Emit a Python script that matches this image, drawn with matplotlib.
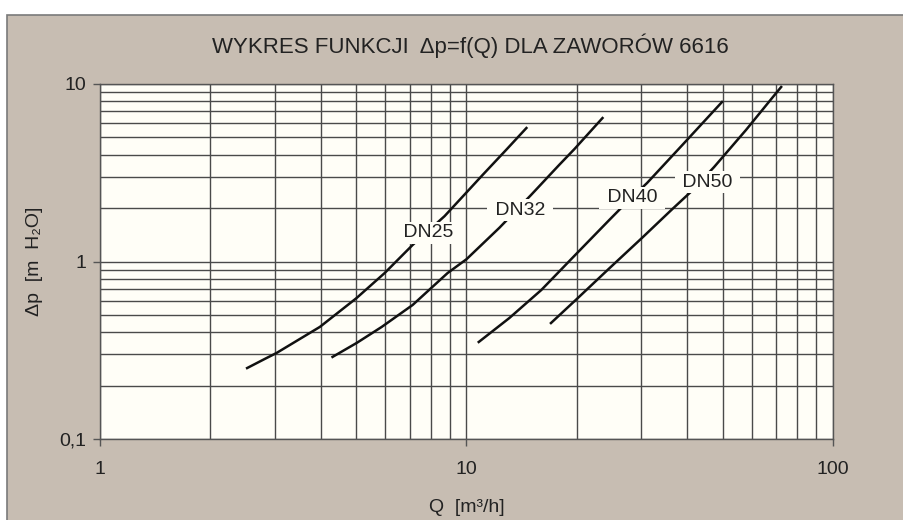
import matplotlib
matplotlib.use("Agg")
import matplotlib.pyplot as plt
from matplotlib.patches import Rectangle
from matplotlib.ticker import FixedLocator, FixedFormatter, NullFormatter

# dane
q_dn25 = [2.52, 2.82, 3.03, 3.98, 5.01, 5.98, 7.13, 8.71, 10.0, 11.06, 12.85, 14.57]
dp_dn25 = [0.251, 0.283, 0.305, 0.428, 0.622, 0.861, 1.24, 1.80, 2.45, 3.07, 4.27, 5.65]

q_dn32 = [4.31, 5.02, 5.87, 7.13, 8.88, 10.0, 12.3, 15.0, 17.9, 19.7, 23.5]
dp_dn32 = [0.290, 0.348, 0.428, 0.569, 0.861, 1.03, 1.55, 2.37, 3.50, 4.30, 6.43]

q_dn40 = [10.8, 13.1, 16.0, 19.9, 24.5, 26.9, 31.1, 38.8, 49.8]
dp_dn40 = [0.352, 0.481, 0.691, 1.10, 1.71, 2.08, 2.77, 4.53, 7.92]

q_dn50 = [17.0, 20.3, 24.5, 30.2, 36.4, 41.3, 47.4, 57.9, 68.2, 72.2]
dp_dn50 = [0.450, 0.633, 0.913, 1.365, 1.97, 2.51, 3.41, 5.51, 8.34, 9.62]

serie = ["DN25", "DN32", "DN40", "DN50"]
etykiety_q = [7.88, 14.0, 28.3, 45.4]
etykiety_dp = [1.45, 1.95, 2.28, 2.80]

x_ticks = [1, 10, 100]
x_tick_labels = ["1", "10", "100"]
y_ticks = [0.1, 1, 10]
y_tick_labels = ["0,1", "1", "10"]

# ustawienia
plt.rcParams["font.family"] = ["Liberation Sans", "DejaVu Sans"]
tlo = "#c7bdb2"
pole = "#fffef7"
siatka = "#4a4a4a"

fig = plt.figure(figsize=(9.04, 5.2), dpi=100)
fig.patch.set_facecolor("white")
fig.patches.append(Rectangle((7 / 904, -0.05), 1.0, 0.05 + (520 - 15) / 520,
                             transform=fig.transFigure, facecolor=tlo,
                             edgecolor="#7a7a7a", linewidth=1.2, zorder=-5))

ax = fig.add_axes([100 / 904, (520 - 439) / 520, 733 / 904, 355 / 520])
ax.set_zorder(2)
ax.set_facecolor(pole)
ax.set_xscale("log")
ax.set_yscale("log")
ax.set_xlim(1, 100)
ax.set_ylim(0.1, 10)

# siatka glowna i pomocnicza
ax.grid(True, which="both", color=siatka, linewidth=1.0)
ax.set_axisbelow(True)

ax.xaxis.set_major_locator(FixedLocator(x_ticks))
ax.xaxis.set_major_formatter(FixedFormatter(x_tick_labels))
ax.yaxis.set_major_locator(FixedLocator(y_ticks))
ax.yaxis.set_major_formatter(FixedFormatter(y_tick_labels))
ax.xaxis.set_minor_formatter(NullFormatter())
ax.yaxis.set_minor_formatter(NullFormatter())
ax.tick_params(which="major", length=5, width=1, color="#555555",
               labelsize=14, labelcolor="#222222")
ax.tick_params(axis="x", which="major", pad=11)
ax.tick_params(axis="y", which="major", pad=5)
ax.tick_params(which="minor", length=0)
for s in ax.spines.values():
    s.set_color("#555555")
    s.set_linewidth(1.0)

# krzywe
dane = [(q_dn25, dp_dn25), (q_dn32, dp_dn32), (q_dn40, dp_dn40), (q_dn50, dp_dn50)]
for (q, dp) in dane:
    ax.plot(q, dp, color="#111111", linewidth=1.8, zorder=3)

# opisy krzywych na bialym tle
for nazwa, xq, ydp in zip(serie, etykiety_q, etykiety_dp):
    ax.text(xq, ydp, " " + nazwa + " ", fontsize=14, color="#222222",
            ha="center", va="center", zorder=5,
            bbox=dict(boxstyle="square,pad=0.12", facecolor=pole, edgecolor="none"))

ax.set_xlabel("Q  [m³/h]", fontsize=14, color="#222222")
ax.xaxis.set_label_coords(0.5, -0.168)
ax.set_ylabel("Δp  [m  H₂O]", fontsize=14, color="#222222", va="center")
ax.yaxis.set_label_coords(-0.089, 0.5)

fig.text(470 / 904, 1 - 46 / 520, "WYKRES FUNKCJI  Δp=f(Q) DLA ZAWORÓW 6616",
         fontsize=16, color="#222222", ha="center", va="center")

fig.savefig("out.png", dpi=100)
